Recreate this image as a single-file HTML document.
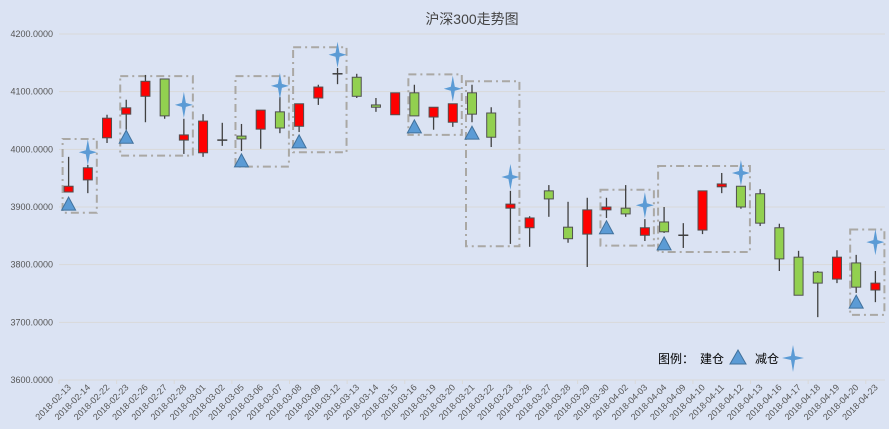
<!DOCTYPE html>
<html><head><meta charset="utf-8"><style>
body{margin:0;background:#dbe3f3;}
svg{display:block;font-family:"Liberation Sans","Noto Sans CJK SC",sans-serif;}
</style></head><body>
<svg id="chart" width="889" height="429" viewBox="0 0 889 429" xmlns="http://www.w3.org/2000/svg">
<rect width="889" height="429" fill="#dbe3f3"/>
<text x="472" y="24" text-anchor="middle" font-size="14" fill="#444">沪深300走势图</text>
<g id="grid"></g><g id="boxes"></g><g id="candles"></g><g id="markers"></g><g id="xlabels"></g>
<g>
<text x="658" y="363" font-size="12" fill="#000">图例：</text>
<text x="700" y="363" font-size="12" fill="#000">建仓</text>
<polygon points="738,350 746,364 730,364" fill="#5b9bd5" stroke="#41719c"/>
<text x="755" y="363" font-size="12" fill="#000">减仓</text>
<polygon points="793,345 795,356 804,358 795,360 793,372 791,360 782,358 791,356" fill="#5b9bd5"/>
</g>
</svg>
<script>
const categories=["2018-02-13","2018-02-14","2018-02-22","2018-02-23","2018-02-26","2018-02-27","2018-02-28","2018-03-01","2018-03-02","2018-03-05","2018-03-06","2018-03-07","2018-03-08","2018-03-09","2018-03-12","2018-03-13","2018-03-14","2018-03-15","2018-03-16","2018-03-19","2018-03-20","2018-03-21","2018-03-22","2018-03-23","2018-03-26","2018-03-27","2018-03-28","2018-03-29","2018-03-30","2018-04-02","2018-04-03","2018-04-04","2018-04-09","2018-04-10","2018-04-11","2018-04-12","2018-04-13","2018-04-16","2018-04-17","2018-04-18","2018-04-19","2018-04-20","2018-04-23"];
const openV=[3926,3947,4020,4061,4092,4122,4016,3994,4016,4023,4035,4065,4040,4089,4131,4125,4077,4060,4098,4056,4047,4098,4063,3898,3864,3928,3865,3853,3895,3898,3851,3874,3851,3860,3935,3936,3923,3864,3813,3787,3775,3803,3756];
const closeV=[3936,3968,4054,4072,4118,4058,4025,4049,4016,4018,4068,4037,4079,4108,4131,4092,4073,4098,4058,4073,4079,4061,4021,3905,3881,3914,3845,3895,3900,3888,3864,3857,3851,3928,3940,3900,3872,3810,3747,3768,3813,3761,3768];
const highV=[3987,3973,4060,4086,4129,4122,4053,4061,4046,4044,4068,4091,4079,4112,4141,4131,4089,4098,4112,4073,4079,4112,4073,3928,3884,3938,3909,3916,3916,3938,3879,3900,3872,3928,3959,3936,3931,3871,3824,3789,3825,3817,3789];
const lowV=[3926,3924,4011,4034,4047,4053,3992,3987,4006,3997,4001,4028,4030,4077,4113,4089,4065,4060,4058,4034,4039,4047,4004,3836,3831,3883,3838,3796,3881,3883,3841,3855,3829,3853,3924,3897,3867,3789,3747,3709,3768,3751,3735];
const buyIdx=[0,3,9,12,18,21,28,31,41];
const buyVal=[3905,4021,3980,4013,4039,4028,3864,3836,3735];
const sellIdx=[1,6,11,14,20,23,30,35,42];
const sellVal=[3995,4077,4110,4164,4105,3952,3903,3959,3839];
const boxStart=[0,3,9,12,18,21,28,31,41];
const boxEnd=[1,6,11,14,20,23,30,35,42];
const boxTop=[4018,4127,4127,4177,4130,4118,3930,3971,3861];
const boxBottom=[3890,3989,3970,3995,4025,3832,3833,3822,3713];
const yTicks=[3600,3700,3800,3900,4000,4100,4200];

const NS="http://www.w3.org/2000/svg";
const X0=59,X1=885,Y0=380,Y1=34,VMIN=3600,VMAX=4200;
const bw=(X1-X0)/categories.length;
const xs=i=>X0+(i+0.5)*bw;
const ys=v=>Y0-(v-VMIN)/(VMAX-VMIN)*(Y0-Y1);
function mk(tag,attrs,parent){const e=document.createElementNS(NS,tag);for(const k in attrs)e.setAttribute(k,attrs[k]);parent.appendChild(e);return e;}
const grid=document.getElementById('grid');
yTicks.forEach(t=>{
  const l=mk('line',{x1:X0,x2:X1,y1:ys(t),y2:ys(t),stroke:'#d9d9d9','stroke-width':1},grid);
  
  
  const tx=mk('text',{x:53,y:ys(t)+3,'text-anchor':'end','font-size':9,fill:'#555'},grid);
  tx.textContent=t.toFixed(4);
  
  
});
for(let i=0;i<=categories.length;i+=3){
  const tk=mk('line',{x1:X0+i*bw,x2:X0+i*bw,y1:Y0,y2:Y0+4,stroke:'#d9d9d9'},grid);
  
  
}
const boxes=document.getElementById('boxes');
boxStart.forEach((s,k)=>{
  const x1=xs(s)-6,x2=xs(boxEnd[k])+9;
  const r=mk('rect',{x:x1,y:ys(boxTop[k]),width:x2-x1,height:ys(boxBottom[k])-ys(boxTop[k]),fill:'none',stroke:'#aaa8a4','stroke-width':2,'stroke-dasharray':'8,4,2,4'},boxes);
  
  
});
const cg=document.getElementById('candles');
categories.forEach((c,i)=>{
  const g=mk('g',{},cg);
  
  
  const x=xs(i),o=openV[i],cl=closeV[i];
  mk('line',{x1:x,x2:x,y1:ys(highV[i]),y2:ys(lowV[i]),stroke:'#404040','stroke-width':1.3},g);
  const top=Math.max(o,cl),bot=Math.min(o,cl);
  let h=ys(bot)-ys(top);
  if(h<1.2){mk('line',{x1:x-5,x2:x+5,y1:ys(top),y2:ys(top),stroke:'#404040','stroke-width':1.5},g);}
  else mk('rect',{x:x-4.5,y:ys(top),width:9,height:h,fill:cl>=o?'#ff0000':'#92d050',stroke:'#505050','stroke-width':1},g);
});
const mg=document.getElementById('markers');
buyIdx.forEach((i,k)=>{
  const x=xs(i),y=ys(buyVal[k]);
  const p=mk('polygon',{points:`${x},${y-7} ${x+7},${y+6} ${x-7},${y+6}`,fill:'#5b9bd5',stroke:'#41719c'},mg);
  
  
});
sellIdx.forEach((i,k)=>{
  const x=xs(i),y=ys(sellVal[k]);
  const p=mk('polygon',{points:`${x},${y-13} ${x+2},${y-2} ${x+9},${y} ${x+2},${y+2} ${x},${y+13} ${x-2},${y+2} ${x-9},${y} ${x-2},${y-2}`,fill:'#5b9bd5'},mg);
  
  
});
const xl=document.getElementById('xlabels');
categories.forEach((c,i)=>{
  const x=xs(i)+3,y=388;
  const t=mk('text',{x:x,y:y,'text-anchor':'end','font-size':9,fill:'#555',transform:`rotate(-45 ${x} ${y})`},xl);
  t.textContent=c;
  
  
});
</script>
</body></html>
